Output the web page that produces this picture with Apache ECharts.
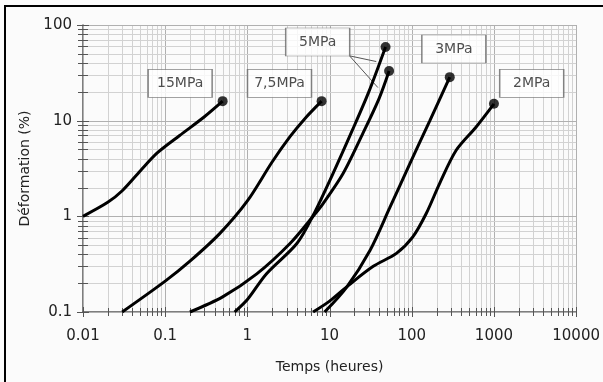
<!DOCTYPE html>
<html>
<head>
<meta charset="utf-8">
<script src="https://cdn.jsdelivr.net/npm/echarts@6/dist/echarts.min.js"></script>
<style>
html,body{margin:0;padding:0;background:#fbfbfb;}
#chart{width:603px;height:382px;}
</style>
</head>
<body>
<div id="chart"></div>
<script>
// ---- data ----
const xTickLabels = ['0.01','0.1','1','10','100','1000','10000'];
const yTickLabels = ['0.1','1','10','100'];
const xTitle = 'Temps (heures)';
const yTitle = 'Déformation (%)';

const s15MPa = [[0.01,1],[0.02,1.4],[0.03,1.85],[0.05,3.0],[0.08,4.6],[0.15,7.0],[0.3,11],[0.5,16]];
const s7_5MPa = [[0.03,0.1],[0.1,0.21],[0.2,0.34],[0.46,0.66],[1,1.45],[2,3.7],[3.3,6.8],[5,10.5],[8,16]];
const s5MPaA = [[0.2,0.1],[0.5,0.144],[1.3,0.25],[3.3,0.52],[6.3,1.0],[8.3,1.35],[14.6,2.8],[25.5,7.4],[40,17],[53,33]];
const s5MPaB = [[0.7,0.1],[1,0.135],[1.7,0.25],[4,0.52],[6.3,1.02],[11,2.8],[19,8],[30,20],[48,59]];
const s3MPa = [[8.7,0.1],[16,0.18],[31,0.44],[54,1.23],[94,3.5],[165,9.9],[290,28.5]];
const s2MPa = [[6.3,0.1],[10,0.13],[17,0.19],[34,0.3],[65,0.41],[103,0.61],[150,1.07],[218,2.2],[347,4.9],[607,8.6],[1000,15]];

const labelNames = ['15MPa','7,5MPa','5MPa','3MPa','2MPa'];
const labelAnchors = [[0.152,24.5],[2.46,24.5],[7.17,66.4],[325,56.1],[2879,24.5]];
const leaderStart = [17.5,47.6];
const leaderEnds = [[37,41.5],[38.7,22.2]];

const X_MIN = 0.01, X_MAX = 10000, Y_MIN = 0.1, Y_MAX = 100;

// grid values (log paper)
const xGridVals = [];
for (let d = -2; d <= 3; d++) for (let k = 1; k <= 9; k++) xGridVals.push(k * Math.pow(10, d));
xGridVals.push(10000);
const yGridVals = [];
for (let d = -1; d <= 1; d++) for (let k = 1; k <= 9; k++) yGridVals.push(k * Math.pow(10, d));
yGridVals.push(100);

function isMajor(v){ const l = Math.log10(v); return Math.abs(l - Math.round(l)) < 1e-6; }

function gridX(params, api){
  const v = api.value(0);
  const maj = isMajor(v);
  const p0 = api.coord([v, Y_MIN]);
  const p1 = api.coord([v, Y_MAX]);
  const x = Math.round(p0[0]) + 0.5;
  const t = maj ? 5 : 4;
  return {type:'group', children:[
    {type:'line', shape:{x1:x,y1:p0[1],x2:x,y2:p1[1]}, style:{stroke: maj ? '#b0b0b0' : '#d2d2d2', lineWidth:1}},
    {type:'line', shape:{x1:x,y1:p0[1]-t,x2:x,y2:p0[1]+t}, style:{stroke:'#555', lineWidth:1}, z2:5}
  ]};
}
function gridY(params, api){
  const v = api.value(1);
  const maj = isMajor(v);
  const p0 = api.coord([X_MIN, v]);
  const p1 = api.coord([X_MAX, v]);
  const y = Math.round(p0[1]) + 0.5;
  const t = maj ? 6 : 5;
  return {type:'group', children:[
    {type:'line', shape:{x1:p0[0],y1:y,x2:p1[0],y2:y}, style:{stroke: maj ? '#b0b0b0' : '#d2d2d2', lineWidth:1}},
    {type:'line', shape:{x1:p0[0]-t,y1:y,x2:p0[0]+t,y2:y}, style:{stroke:'#555', lineWidth:1}, z2:5}
  ]};
}

const curves = [s15MPa, s7_5MPa, s5MPaA, s5MPaB, s3MPa, s2MPa];
const FONT = 'DejaVu Sans';

const series = [
  {type:'custom', renderItem:gridX, data:xGridVals.map(v=>[v, Y_MIN]), silent:true, z:1, clip:false},
  {type:'custom', renderItem:gridY, data:yGridVals.map(v=>[X_MIN, v]), silent:true, z:1, clip:false}
];
curves.forEach(c => series.push({
  type:'line', data:c, smooth:0.3, symbol:'none',
  lineStyle:{color:'#000', width:3}, z:5, silent:true
}));
series.push({
  type:'scatter', data:curves.map(c=>c[c.length-1]), symbol:'circle', symbolSize:10,
  itemStyle:{color:'#000'}, z:6, silent:true
});
leaderEnds.forEach(e => series.push({
  type:'line', data:[leaderStart, e], symbol:'none',
  lineStyle:{color:'#555', width:1}, z:4, silent:true
}));
series.push({
  type:'scatter', symbol:'rect', symbolSize:[64,28],
  data: labelNames.map((n,i)=>({name:n, value:labelAnchors[i]})),
  itemStyle:{color:'#fff', borderColor:'#666', borderWidth:1},
  label:{show:true, position:'inside', formatter:p=>p.name, color:'#222', fontFamily:FONT, fontSize:14},
  z:7, silent:true
});

const chart = echarts.init(document.getElementById('chart'), null, {renderer:'canvas'});
chart.setOption({
  backgroundColor:'#fbfbfb',
  animation:false,
  grid:{left:83, right:26, top:25, bottom:70, containLabel:false},
  xAxis:{
    type:'log', logBase:10, min:X_MIN, max:X_MAX,
    name:xTitle, nameLocation:'middle', nameGap:48,
    nameTextStyle:{color:'#222', fontFamily:FONT, fontSize:14},
    axisLine:{show:true, lineStyle:{color:'#555', width:1.5}},
    axisTick:{show:false}, splitLine:{show:false}, minorTick:{show:false},
    axisLabel:{color:'#222', fontFamily:FONT, fontSize:15, margin:17,
      formatter:v=>xTickLabels[Math.round(Math.log10(v))+2]}
  },
  yAxis:{
    type:'log', logBase:10, min:Y_MIN, max:Y_MAX,
    name:yTitle, nameLocation:'middle', nameGap:46, nameRotate:90,
    nameTextStyle:{color:'#222', fontFamily:FONT, fontSize:14},
    axisLine:{show:true, lineStyle:{color:'#555', width:1.5}},
    axisTick:{show:false}, splitLine:{show:false},
    axisLabel:{color:'#222', fontFamily:FONT, fontSize:15, margin:11,
      formatter:v=>yTickLabels[Math.round(Math.log10(v))+1]}
  },
  graphic:[
    {type:'line', shape:{x1:4,y1:6,x2:603,y2:6}, style:{stroke:'#000', lineWidth:2}},
    {type:'line', shape:{x1:5,y1:5,x2:5,y2:382}, style:{stroke:'#000', lineWidth:2}}
  ],
  series:series
});
</script>
</body>
</html>
